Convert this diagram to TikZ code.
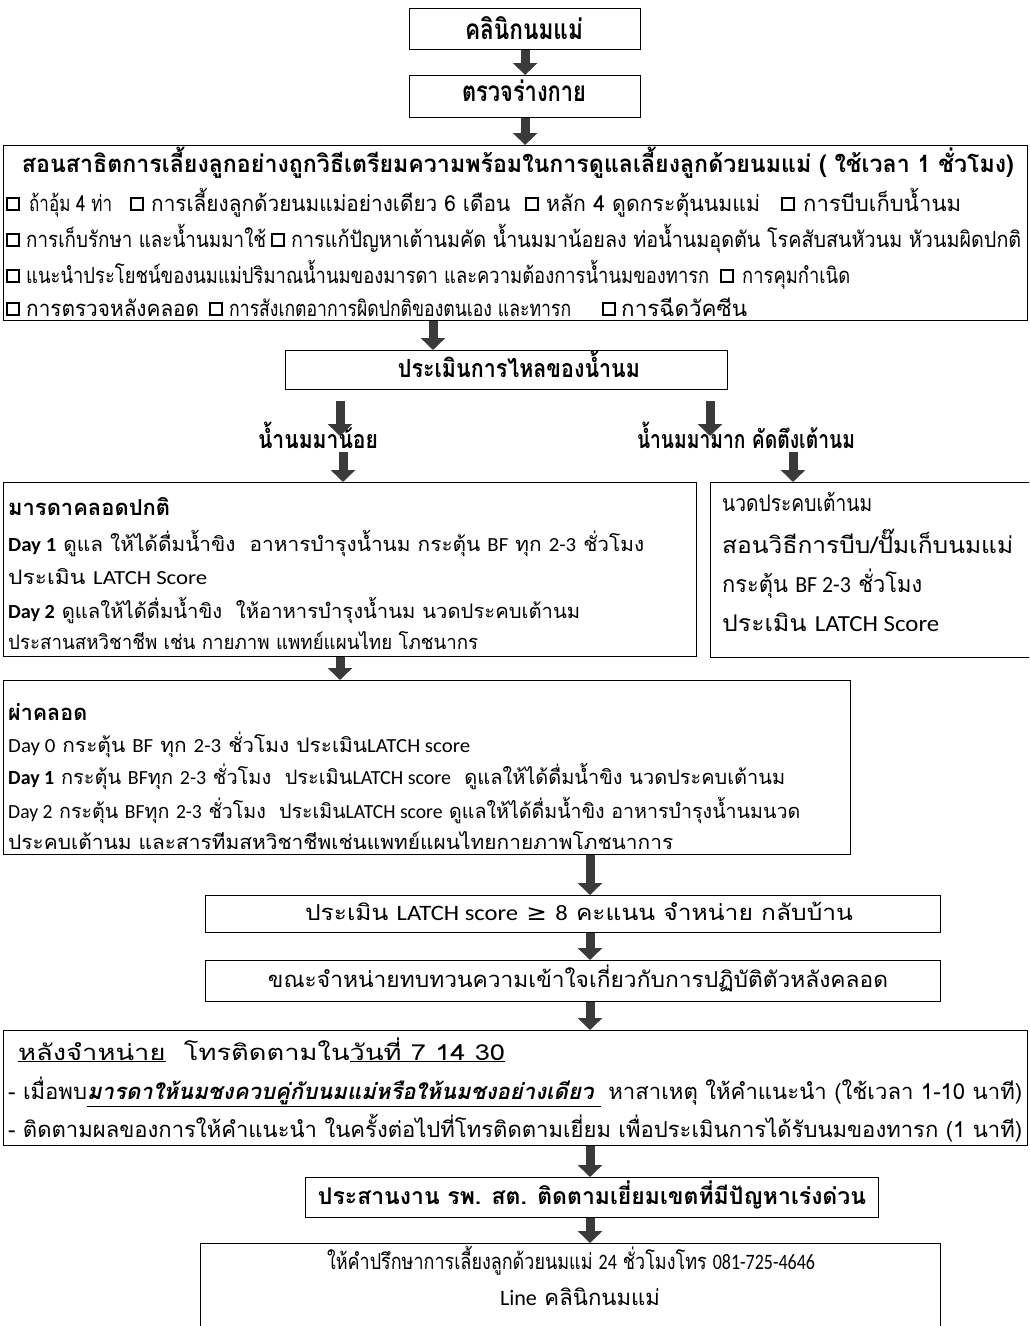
\documentclass[tikz,border=0pt]{standalone}
\usepackage{fontspec}
\usepackage{graphicx}
\setmainfont{Loma}[Script=Thai]
\newfontfamily\latn{Carlito}
\newfontfamily\djv{DejaVu Sans}
\usetikzlibrary{arrows.meta}
\definecolor{arrowgray}{HTML}{3A3A3A}
\newcommand\fitw[2]{\resizebox{#1pt}{\height}{#2}}
\newcommand\fs[1]{\fontsize{#1}{#1}\selectfont}
\tikzset{
  box/.style={draw=black, line width=1.3pt, inner sep=0pt, anchor=north west},
  txt/.style={inner sep=0pt, anchor=base west},
  ctxt/.style={inner sep=0pt, anchor=base},
  cbox/.style={draw=black, line width=1.6pt, minimum size=12.5pt, inner sep=0pt},
  barrow/.style={draw=arrowgray, line width=9pt, -{Triangle[width=24pt,length=12pt]}},
}
\begin{document}
\begin{tikzpicture}[x=1pt,y=-1pt]
\useasboundingbox (0,0) rectangle (1029,1326);
\clip (0,0) rectangle (1029,1326);
% boxes
\node[box, minimum width=231pt, minimum height=41pt] (b1) at (409,8) {};
\node[box, minimum width=231pt, minimum height=42pt] (b2) at (409,75) {};
\node[box, minimum width=1024pt, minimum height=175pt] (b3) at (3,145) {};
\node[box, minimum width=442pt, minimum height=39pt] (b4) at (285,350) {};
\node[box, minimum width=693pt, minimum height=174pt] (b5) at (3,482) {};
\node[box, minimum width=330pt, minimum height=175pt] (b6) at (710,482) {};
\node[box, minimum width=847pt, minimum height=174pt] (b7) at (3,680) {};
\node[box, minimum width=735pt, minimum height=37pt] (b8) at (205,895) {};
\node[box, minimum width=735pt, minimum height=41pt] (b9) at (205,960) {};
\node[box, minimum width=1024pt, minimum height=115pt] (b10) at (3,1030) {};
\node[box, minimum width=573pt, minimum height=40pt] (b11) at (305,1177) {};
\node[box, minimum width=740pt, minimum height=100pt] (b12) at (200,1243) {};
% texts
\node[ctxt, font=\fs{28}\bfseries] (t1) at (524,39) {\fitw{118}{คลินิกนมแม่}};
\node[ctxt, font=\fs{28}\bfseries] (t2) at (524,101) {\fitw{124}{ตรวจร่างกาย}};
\node[ctxt, font=\fs{24}\bfseries] (t3) at (518,172) {\fitw{992}{สอนสาธิตการเลี้ยงลูกอย่างถูกวิธีเตรียมความพร้อมในการดูแลเลี้ยงลูกด้วยนมแม่ ( ใช้เวลา 1 ชั่วโมง)}};
% checklist line 1
\node[cbox] (cb1) at (13,204) {};
\node[txt, font=\fs{22}] (t3a1) at (29,211) {\fitw{83}{ถ้าอุ้ม 4 ท่า}};
\node[cbox] (cb2) at (137,204) {};
\node[txt, font=\fs{22}] (t3a2) at (151,211) {\fitw{359}{การเลี้ยงลูกด้วยนมแม่อย่างเดียว 6 เดือน}};
\node[cbox] (cb3) at (532,204) {};
\node[txt, font=\fs{22}] (t3a3) at (546,211) {\fitw{214}{หลัก 4 ดูดกระตุ้นนมแม่}};
\node[cbox] (cb4) at (788,204) {};
\node[txt, font=\fs{22}] (t3a4) at (803,211) {\fitw{158}{การบีบเก็บน้ำนม}};
% checklist line 2
\node[cbox] (cb5) at (13,240) {};
\node[txt, font=\fs{22}] (t3b1) at (26,247) {\fitw{240}{การเก็บรักษา และน้ำนมมาใช้}};
\node[cbox] (cb6) at (278,240) {};
\node[txt, font=\fs{22}] (t3b2) at (291,247) {\fitw{730}{การแก้ปัญหาเต้านมคัด น้ำนมมาน้อยลง ท่อน้ำนมอุดตัน โรคสับสนหัวนม หัวนมผิดปกติ}};
% checklist line 3
\node[cbox] (cb7) at (13,276) {};
\node[txt, font=\fs{22}] (t3c1) at (26,283) {\fitw{683}{แนะนำประโยชน์ของนมแม่ปริมาณน้ำนมของมารดา และความต้องการน้ำนมของทารก}};
\node[cbox] (cb8) at (727,276) {};
\node[txt, font=\fs{22}] (t3c2) at (742,283) {\fitw{108}{การคุมกำเนิด}};
% checklist line 4
\node[cbox] (cb9) at (13,309) {};
\node[txt, font=\fs{22}] (t3d1) at (26,316) {\fitw{173}{การตรวจหลังคลอด}};
\node[cbox] (cb10) at (216,309) {};
\node[txt, font=\fs{22}] (t3d2) at (229,316) {\fitw{342}{การสังเกตอาการผิดปกติของตนเอง และทารก}};
\node[cbox] (cb11) at (609,309) {};
\node[txt, font=\fs{22}] (t3d3) at (621,316) {\fitw{126}{การฉีดวัคซีน}};
\node[ctxt, font=\fs{25}\bfseries] (t4) at (519,377) {\fitw{242}{ประเมินการไหลของน้ำนม}};
\node[ctxt, font=\fs{25}\bfseries] (l1) at (318,448) {\fitw{120}{น้ำนมมาน้อย}};
\node[ctxt, font=\fs{25}\bfseries] (l2) at (746,448) {\fitw{218}{น้ำนมมามาก คัดตึงเต้านม}};
% box 5
\node[txt, font=\fs{22}\bfseries] (t5) at (8,515) {\fitw{162}{มารดาคลอดปกติ}};
\node[txt, font=\fs{20}] (t5a) at (8,551) {\fitw{636}{{\latn\bfseries Day 1} ดูแล ให้ได้ดื่มน้ำขิง \ อาหารบำรุงน้ำนม กระตุ้น {\latn BF} ทุก {\latn 2-3} ชั่วโมง}};
\node[txt, font=\fs{20}] (t5b) at (8,584) {\fitw{199}{ประเมิน {\latn LATCH Score}}};
\node[txt, font=\fs{20}] (t5c) at (8,618) {\fitw{572}{{\latn\bfseries Day 2} ดูแลให้ได้ดื่มน้ำขิง \ ให้อาหารบำรุงน้ำนม นวดประคบเต้านม}};
\node[txt, font=\fs{20}] (t5d) at (8,649) {\fitw{470}{ประสานสหวิชาชีพ เช่น กายภาพ แพทย์แผนไทย โภชนากร}};
% box 6
\node[txt, font=\fs{23}] (t6a) at (722,511) {\fitw{150}{นวดประคบเต้านม}};
\node[txt, font=\fs{23}] (t6b) at (722,553) {\fitw{291}{สอนวิธีการบีบ/ปั๊มเก็บนมแม่}};
\node[txt, font=\fs{23}] (t6c) at (722,592) {\fitw{200}{กระตุ้น {\latn BF 2-3} ชั่วโมง}};
\node[txt, font=\fs{23}] (t6d) at (722,631) {\fitw{217}{ประเมิน {\latn LATCH Score}}};
% box 7
\node[txt, font=\fs{22}\bfseries] (t7) at (8,720) {\fitw{79}{ผ่าคลอด}};
\node[txt, font=\fs{20}] (t7a) at (8,752) {\fitw{462}{{\latn Day 0} กระตุ้น {\latn BF} ทุก {\latn 2-3} ชั่วโมง ประเมิน{\latn LATCH score}}};
\node[txt, font=\fs{20}] (t7b) at (8,784) {\fitw{777}{{\latn\bfseries Day 1} กระตุ้น {\latn BF}ทุก {\latn 2-3} ชั่วโมง \ ประเมิน{\latn LATCH score} \ ดูแลให้ได้ดื่มน้ำขิง นวดประคบเต้านม}};
\node[txt, font=\fs{20}] (t7c) at (8,818) {\fitw{792}{{\latn Day 2} กระตุ้น {\latn BF}ทุก {\latn 2-3} ชั่วโมง \ ประเมิน{\latn LATCH score} ดูแลให้ได้ดื่มน้ำขิง อาหารบำรุงน้ำนมนวด}};
\node[txt, font=\fs{20}] (t7d) at (8,849) {\fitw{665}{ประคบเต้านม และสารทีมสหวิชาชีพเช่นแพทย์แผนไทยกายภาพโภชนาการ}};
% lower boxes
\node[ctxt, font=\fs{22}] (t8) at (579,920) {\fitw{548}{ประเมิน {\latn LATCH score} {\djv ≥} {\latn 8} คะแนน จำหน่าย กลับบ้าน}};
\node[ctxt, font=\fs{22}] (t9) at (578,987) {\fitw{620}{ขณะจำหน่ายทบทวนความเข้าใจเกี่ยวกับการปฏิบัติตัวหลังคลอด}};
\node[txt, font=\fs{22}] (t10a) at (18,1060) {\fitw{487}{\underline{หลังจำหน่าย} \ โทรติดตามใน\underline{วันที่ 7 14 30}}};
\node[txt, font=\fs{22}] (t10b) at (8,1099) {\fitw{1014}{- เมื่อพบ\underline{\bfseries\itshape มารดาให้นมชงควบคู่กับนมแม่หรือให้นมชงอย่างเดียว } หาสาเหตุ ให้คำแนะนำ (ใช้เวลา 1-10 นาที)}};
\node[txt, font=\fs{22}] (t10c) at (8,1137) {\fitw{1014}{- ติดตามผลของการให้คำแนะนำ ในครั้งต่อไปที่โทรติดตามเยี่ยม เพื่อประเมินการได้รับนมของทารก (1 นาที)}};
\node[ctxt, font=\fs{23}\bfseries] (t11) at (592,1204) {\fitw{548}{ประสานงาน รพ. สต. ติดตามเยี่ยมเขตที่มีปัญหาเร่งด่วน}};
\node[ctxt, font=\fs{22}] (t12a) at (571,1269) {\fitw{488}{ให้คำปรึกษาการเลี้ยงลูกด้วยนมแม่ {\latn 24} ชั่วโมงโทร {\latn 081-725-4646}}};
\node[ctxt, font=\fs{22}] (t12b) at (580,1305) {\fitw{160}{{\latn Line} คลินิกนมแม่}};
% arrow reference coordinates
\coordinate (x340) at (340,0);
\coordinate (x433) at (433,0);
\coordinate (x590) at (590,0);
\coordinate (x710) at (710,0);
\coordinate (e1) at (340,436);
\coordinate (e2) at (710,436);
\coordinate (s1) at (343,452);
\coordinate (s2) at (793,452);
% arrows
\draw[barrow] (b1.south) -- (b2.north);
\draw[barrow] (b2.south) -- (b2.south |- b3.north);
\draw[barrow] (x433 |- b3.south) -- (x433 |- b4.north);
\draw[barrow, shorten <=11pt] (x340 |- b4.south) -- (e1);
\draw[barrow, shorten <=11pt] (x710 |- b4.south) -- (e2);
\draw[barrow] (s1) -- (s1 |- b5.north);
\draw[barrow] (s2) -- (s2 |- b6.north);
\draw[barrow] (x340 |- b5.south) -- (x340 |- b7.north);
\draw[barrow] (x590 |- b7.south) -- (x590 |- b8.north);
\draw[barrow] (x590 |- b8.south) -- (x590 |- b9.north);
\draw[barrow] (x590 |- b9.south) -- (x590 |- b10.north);
\draw[barrow] (x590 |- b10.south) -- (x590 |- b11.north);
\draw[barrow] (x590 |- b11.south) -- (x590 |- b12.north);
\end{tikzpicture}
\end{document}
